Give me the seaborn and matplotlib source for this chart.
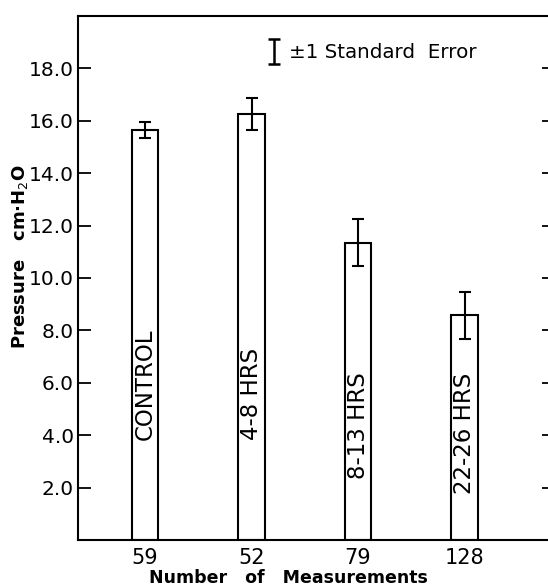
import matplotlib
matplotlib.use("Agg")
import matplotlib.pyplot as plt
import seaborn as sns
import pandas as pd

# ---- data ----
n_measurements = ["59", "52", "79", "128"]
conditions = ["CONTROL", "4-8 HRS", "8-13 HRS", "22-26 HRS"]
pressure = [15.65, 16.25, 11.35, 8.57]
std_error = [0.32, 0.62, 0.90, 0.89]
y_ticks = [2, 4, 6, 8, 10, 12, 14, 16, 18]
y_tick_labels = ["2.0", "4.0", "6.0", "8.0", "10.0", "12.0", "14.0", "16.0", "18.0"]

df = pd.DataFrame({"n": n_measurements, "pressure": pressure,
                   "se": std_error, "cond": conditions})

sns.set_theme(style="white")
plt.rcParams["font.family"] = ["DejaVu Sans"]

fig = plt.figure(figsize=(5.48, 5.86), dpi=100)
ax = fig.add_axes([0.1423, 0.0785, 0.8705, 0.8942])

sns.barplot(data=df, x="n", y="pressure", order=n_measurements,
            color="white", edgecolor="black", linewidth=1.5,
            width=0.25, errorbar=None, ax=ax)

xs = list(range(len(n_measurements)))
ax.errorbar(xs, df["pressure"], yerr=df["se"], fmt="none",
            ecolor="black", elinewidth=1.5, capsize=4, capthick=1.5, zorder=5)

# labels inside bars
label_kw = dict(rotation=90, ha="center", fontsize=16.5, color="black")
ax.text(0, 3.8, conditions[0], va="bottom", **label_kw)
ax.text(1, 3.8, conditions[1], va="bottom", **label_kw)
ax.text(2, 6.4, conditions[2], va="top", **label_kw)
ax.text(3, 6.4, conditions[3], va="top", **label_kw)

# legend-like annotation
ax.errorbar([1.21], [18.64], yerr=[0.48], fmt="none", ecolor="black",
            elinewidth=1.8, capsize=4, capthick=1.8)
ax.text(1.355, 18.62, "±1 Standard  Error", ha="left", va="center",
        fontsize=14.3, color="black")

ax.set_xlim(-0.63, 3.85)
ax.set_ylim(0, 20)
ax.set_yticks(y_ticks)
ax.set_yticklabels(y_tick_labels)

ax.tick_params(axis="y", which="both", direction="in", length=9.5, width=1.3,
               left=True, right=True, labelleft=True, labelright=False,
               labelsize=14.5, pad=3, colors="black")
ax.tick_params(axis="x", length=0, labelsize=15, pad=6, colors="black")

for s in ax.spines.values():
    s.set_visible(True)
    s.set_color("black")
    s.set_linewidth(1.5)

ax.set_xlabel("Number   of   Measurements", fontsize=12.5, fontweight="bold",
              color="black", va="top")
ax.set_ylabel("Pressure   cm·H$_2$O", fontsize=13, fontweight="bold",
              color="black")
ax.xaxis.set_label_coords(0.442, -0.055)
ax.yaxis.set_label_coords(-0.10, 0.54)

fig.savefig("out.png", dpi=100)
